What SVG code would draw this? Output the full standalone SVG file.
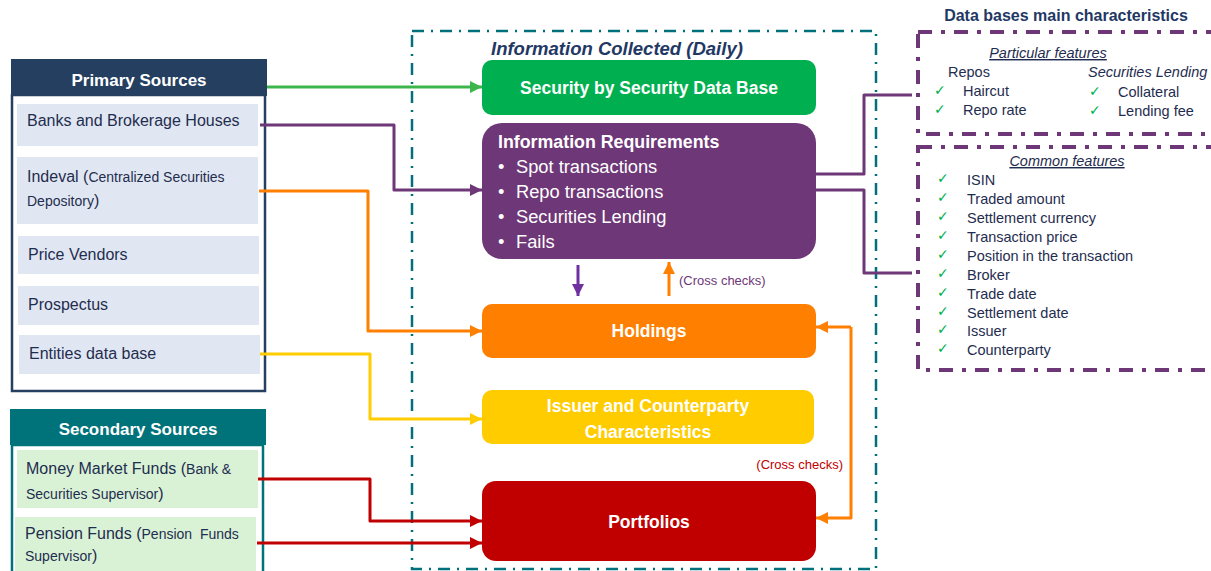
<svg xmlns="http://www.w3.org/2000/svg" width="1211" height="571" viewBox="0 0 1211 571">
  <defs>
    <style>
      text { font-family: "Liberation Sans", Arial, sans-serif; }
      .hdr { font-size: 17px; font-weight: bold; fill: #ffffff; text-anchor: middle; }
      .item { font-size: 16px; fill: #1f2d4f; }
      .small { font-size: 14px; }
      .box-t { font-size: 17.5px; font-weight: bold; fill: #ffffff; text-anchor: middle; }
      .req { font-size: 18.3px; fill: #ffffff; }
      .feat { font-size: 14.5px; fill: #1f2d4f; }
      .chk { font-family: "DejaVu Sans", sans-serif; font-size: 14px; fill: #00b050; }
      .wire { fill: none; stroke-width: 3; stroke-linejoin: round; }
      .frame-teal { fill: none; stroke: #00707a; stroke-width: 2.5; stroke-dasharray: 12 7 2 7; }
      .frame-purple { fill: none; stroke: #6e3777; stroke-width: 4; stroke-dasharray: 14 9 4 9; }
    </style>
    <marker id="ah-green" markerUnits="userSpaceOnUse" markerWidth="14" markerHeight="14" refX="12" refY="6" orient="auto"><path d="M0,0 L12,6 L0,12 z" fill="#3cb54a"/></marker>
    <marker id="ah-purple" markerUnits="userSpaceOnUse" markerWidth="14" markerHeight="14" refX="12" refY="6" orient="auto"><path d="M0,0 L12,6 L0,12 z" fill="#6e3777"/></marker>
    <marker id="ah-violet" markerUnits="userSpaceOnUse" markerWidth="14" markerHeight="14" refX="12" refY="6" orient="auto"><path d="M0,0 L12,6 L0,12 z" fill="#7030a0"/></marker>
    <marker id="ah-orange" markerUnits="userSpaceOnUse" markerWidth="14" markerHeight="14" refX="12" refY="6" orient="auto"><path d="M0,0 L12,6 L0,12 z" fill="#ff7f00"/></marker>
    <marker id="ah-yellow" markerUnits="userSpaceOnUse" markerWidth="14" markerHeight="14" refX="12" refY="6" orient="auto"><path d="M0,0 L12,6 L0,12 z" fill="#ffcc00"/></marker>
    <marker id="ah-red" markerUnits="userSpaceOnUse" markerWidth="14" markerHeight="14" refX="12" refY="6" orient="auto"><path d="M0,0 L12,6 L0,12 z" fill="#c00000"/></marker>
  </defs>

  <rect width="1211" height="571" fill="#ffffff"/>

  <!-- Daily collection frame -->
  <g id="collected-frame">
    <rect x="412" y="31" width="464" height="538" class="frame-teal"/>
    <text x="491" y="55" font-size="18.5" font-weight="bold" font-style="italic" fill="#1f3864">Information Collected (Daily)</text>
  </g>

  <!-- Primary sources -->
  <g id="primary-sources">
    <rect x="12" y="95" width="253" height="296" fill="#ffffff" stroke="#243f60" stroke-width="2.5"/>
    <rect x="11" y="59" width="256" height="37" fill="#243f60"/>
    <text x="139" y="86" class="hdr">Primary Sources</text>
    <rect x="17" y="104" width="241" height="42" fill="#e1e7f2"/>
    <text x="27" y="126" class="item">Banks and Brokerage Houses</text>
    <rect x="17" y="157" width="241" height="67" fill="#e1e7f2"/>
    <text x="27" y="182" class="item">Indeval (<tspan class="small">Centralized Securities</tspan></text>
    <text x="27" y="206" class="item"><tspan class="small">Depository</tspan>)</text>
    <rect x="18" y="236" width="241" height="38" fill="#e1e7f2"/>
    <text x="28" y="260" class="item">Price Vendors</text>
    <rect x="18" y="286" width="241" height="39" fill="#e1e7f2"/>
    <text x="28" y="310" class="item">Prospectus</text>
    <rect x="19" y="335" width="241" height="39" fill="#e1e7f2"/>
    <text x="29" y="359" class="item">Entities data base</text>
  </g>

  <!-- Secondary sources -->
  <g id="secondary-sources">
    <rect x="12" y="445" width="251" height="140" fill="#ffffff" stroke="#00727a" stroke-width="2.5"/>
    <rect x="10" y="409" width="256" height="36" fill="#00727a"/>
    <text x="138" y="435" class="hdr">Secondary Sources</text>
    <rect x="17" y="450" width="241" height="58" fill="#d9f2d6"/>
    <text x="26" y="474" class="item">Money Market Funds (<tspan class="small">Bank &amp;</tspan></text>
    <text x="26" y="499" class="item"><tspan class="small">Securities Supervisor</tspan>)</text>
    <rect x="15" y="517" width="241" height="54" fill="#d9f2d6"/>
    <text x="25" y="539" class="item">Pension Funds (<tspan class="small">Pension&#160; Funds</tspan></text>
    <text x="25" y="561" class="item"><tspan class="small">Supervisor</tspan>)</text>
  </g>

  <!-- Collected data sets -->
  <g id="security-db">
    <rect x="482" y="60" width="334" height="55" rx="10" fill="#00b050"/>
    <text x="649" y="94" class="box-t">Security by Security Data Base</text>
  </g>

  <g id="info-requirements">
    <rect x="482" y="123" width="334" height="136" rx="20" fill="#6e3777"/>
    <text x="498" y="148" font-size="17.8" font-weight="bold" fill="#ffffff">Information Requirements</text>
    <text x="498" y="173" class="req">•</text><text x="516" y="173" class="req">Spot transactions</text>
    <text x="498" y="198" class="req">•</text><text x="516" y="198" class="req">Repo transactions</text>
    <text x="498" y="223" class="req">•</text><text x="516" y="223" class="req">Securities Lending</text>
    <text x="498" y="248" class="req">•</text><text x="516" y="248" class="req">Fails</text>
  </g>

  <g id="holdings">
    <rect x="482" y="304" width="334" height="54" rx="10" fill="#ff7f00"/>
    <text x="649" y="337" class="box-t">Holdings</text>
  </g>

  <g id="issuer-counterparty">
    <rect x="482" y="390" width="332" height="54" rx="10" fill="#ffcc00"/>
    <text x="648" y="412" class="box-t" font-size="18.5">Issuer and Counterparty</text>
    <text x="648" y="438" class="box-t" font-size="18.5">Characteristics</text>
  </g>

  <g id="portfolios">
    <rect x="482" y="481" width="334" height="80" rx="14" fill="#c00000"/>
    <text x="649" y="528" class="box-t">Portfolios</text>
  </g>

  <!-- Database characteristics panel -->
  <g id="db-characteristics">
    <text x="1066" y="21" font-size="16" font-weight="bold" fill="#1f3864" text-anchor="middle">Data bases main characteristics</text>
  </g>

  <g id="particular-features">
    <rect x="918" y="32" width="320" height="102" class="frame-purple"/>
    <text x="1048" y="58" class="feat" font-style="italic" text-anchor="middle" text-decoration="underline">Particular features</text>
    <text x="948" y="77" class="feat">Repos</text>
    <text x="934" y="95" class="chk">✓</text><text x="963" y="96" class="feat">Haircut</text>
    <text x="934" y="114" class="chk">✓</text><text x="963" y="115" class="feat">Repo rate</text>
    <text x="1088" y="77" class="feat" font-style="italic">Securities Lending</text>
    <text x="1089" y="96" class="chk">✓</text><text x="1118" y="97" class="feat">Collateral</text>
    <text x="1089" y="115" class="chk">✓</text><text x="1118" y="116" class="feat">Lending fee</text>
  </g>

  <g id="common-features">
    <rect x="918" y="147" width="320" height="223" class="frame-purple"/>
    <text x="1067" y="166" class="feat" font-style="italic" text-anchor="middle" text-decoration="underline">Common features</text>
    <g>
      <text x="937" y="183" class="chk">✓</text><text x="967" y="185" class="feat">ISIN</text>
      <text x="937" y="202" class="chk">✓</text><text x="967" y="204" class="feat">Traded amount</text>
      <text x="937" y="221" class="chk">✓</text><text x="967" y="223" class="feat">Settlement currency</text>
      <text x="937" y="240" class="chk">✓</text><text x="967" y="242" class="feat">Transaction price</text>
      <text x="937" y="259" class="chk">✓</text><text x="967" y="261" class="feat">Position in the transaction</text>
      <text x="937" y="278" class="chk">✓</text><text x="967" y="280" class="feat">Broker</text>
      <text x="937" y="297" class="chk">✓</text><text x="967" y="299" class="feat">Trade date</text>
      <text x="937" y="316" class="chk">✓</text><text x="967" y="318" class="feat">Settlement date</text>
      <text x="937" y="334" class="chk">✓</text><text x="967" y="336" class="feat">Issuer</text>
      <text x="937" y="353" class="chk">✓</text><text x="967" y="355" class="feat">Counterparty</text>
    </g>
  </g>

  <!-- Connectors -->
  <g id="connectors">
    <path d="M267,87 H482" class="wire" stroke="#3cb54a" marker-end="url(#ah-green)"/>
    <path d="M260,125 H394 V190 H482" class="wire" stroke="#6e3777" marker-end="url(#ah-purple)"/>
    <path d="M259,191 H368 V331 H482" class="wire" stroke="#ff7f00" marker-end="url(#ah-orange)"/>
    <path d="M260,354 H370 V419 H482" class="wire" stroke="#ffcc00" marker-end="url(#ah-yellow)"/>
    <path d="M258,479 H370 V521 H482" class="wire" stroke="#c00000" marker-end="url(#ah-red)"/>
    <path d="M257,543 H482" class="wire" stroke="#c00000" marker-end="url(#ah-red)"/>

    <!-- requirements feed holdings; holdings cross-checked back -->
    <path d="M578,265 V296" class="wire" stroke="#7030a0" marker-end="url(#ah-violet)"/>
    <path d="M669,296 V262" class="wire" stroke="#ff7f00" marker-end="url(#ah-orange)"/>
    <text x="679" y="285" font-size="13" fill="#6e3777">(Cross checks)</text>

    <!-- holdings / portfolios cross check -->
    <path d="M851,327 V518 H816" class="wire" stroke="#ff7f00" marker-end="url(#ah-orange)"/>
    <path d="M851,327 H816" class="wire" stroke="#ff7f00" marker-end="url(#ah-orange)"/>
    <text x="843" y="469" font-size="13" fill="#c00000" text-anchor="end">(Cross checks)</text>

    <!-- requirements to database characteristics -->
    <path d="M816,174 H864 V95 H912" class="wire" stroke="#6e3777"/>
    <path d="M816,190 H864 V273 H912" class="wire" stroke="#6e3777"/>
  </g>
</svg>
